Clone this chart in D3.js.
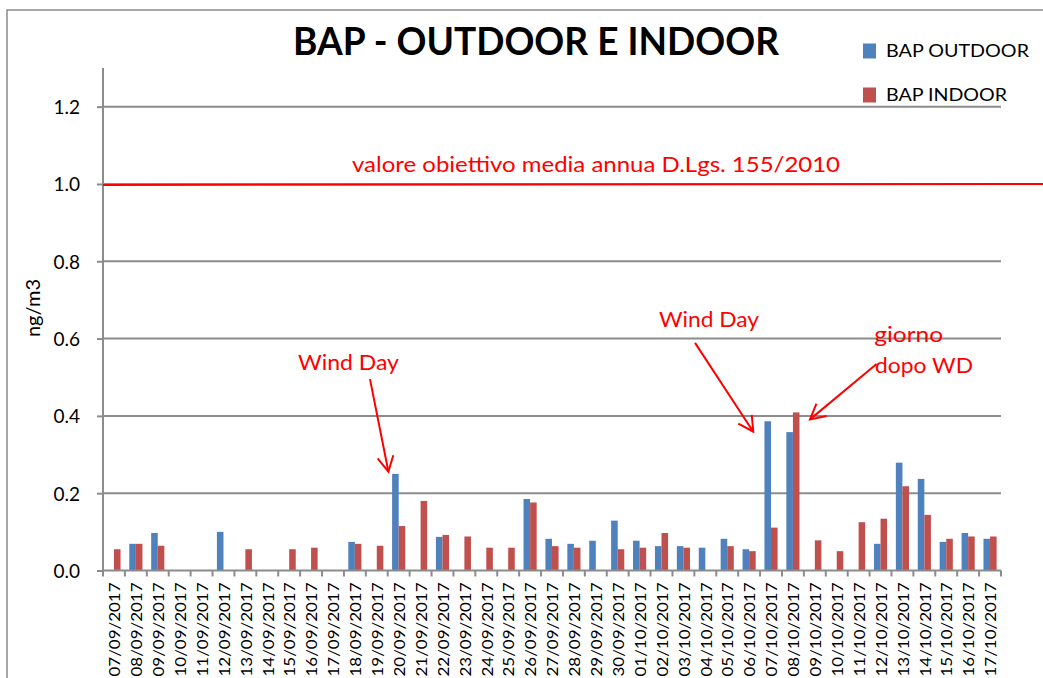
<!DOCTYPE html>
<html><head><meta charset="utf-8">
<script src="https://cdn.jsdelivr.net/npm/d3@7"></script>
<style>
html,body{margin:0;padding:0;background:#fff;overflow:hidden;}
svg{display:block;font-family:Lato,"Open Sans",sans-serif;}
</style></head>
<body><svg id="chart" width="1043" height="678"></svg>
<script>
const categories = ["07/09/2017","08/09/2017","09/09/2017","10/09/2017","11/09/2017","12/09/2017","13/09/2017","14/09/2017","15/09/2017","16/09/2017","17/09/2017","18/09/2017","19/09/2017","20/09/2017","21/09/2017","22/09/2017","23/09/2017","24/09/2017","25/09/2017","26/09/2017","27/09/2017","28/09/2017","29/09/2017","30/09/2017","01/10/2017","02/10/2017","03/10/2017","04/10/2017","05/10/2017","06/10/2017","07/10/2017","08/10/2017","09/10/2017","10/10/2017","11/10/2017","12/10/2017","13/10/2017","14/10/2017","15/10/2017","16/10/2017","17/10/2017"];
const outdoor = [null,0.069,0.097,null,null,0.100,null,null,null,null,null,0.074,null,0.250,null,0.087,null,null,null,0.185,0.082,0.069,0.077,0.129,0.077,0.063,0.063,0.059,0.082,0.055,0.386,0.358,null,null,null,0.069,0.279,0.237,0.074,0.097,0.082];
const indoor = [0.055,0.069,0.064,null,null,null,0.055,null,0.055,0.059,null,0.069,0.064,0.115,0.180,0.092,0.088,0.059,0.059,0.176,0.063,0.059,null,0.055,0.059,0.097,0.059,null,0.063,0.050,0.111,0.409,0.078,0.050,0.125,0.134,0.218,0.144,0.082,0.088,0.088];
const seriesNames = ["BAP OUTDOOR","BAP INDOOR"];
const yTicks = [0,0.2,0.4,0.6,0.8,1.0,1.2];
const limitValue = 1.0;
const limitLabel = "valore obiettivo media annua D.Lgs. 155/2010";
const titleText = "BAP - OUTDOOR E INDOOR";
const yLabel = "ng/m3";

const colors = ["#4F81BD","#C0504D"];
const svg = d3.select("#chart");
const W = 1043, H = 678;
const plot = {left:103, right:1001, top:68, bottom:570.5};

const x = d3.scaleBand().domain(categories).range([plot.left, plot.right]).padding(0);
const xs = d3.scaleBand().domain(seriesNames).range([x.bandwidth()*0.2, x.bandwidth()*0.8]);
const y = d3.scaleLinear().domain([0,1.3]).range([plot.bottom, plot.top]);
const xf = i => plot.left + i * x.bandwidth();

svg.append("path").attr("d", `M7,${H+5} L7,10 L${W+5},10`).attr("fill","none").attr("stroke","#8a8a8a").attr("stroke-width",1.5);

svg.append("g").selectAll("line").data(yTicks.filter(d=>d>0)).join("line")
  .attr("x1", plot.left).attr("x2", plot.right)
  .attr("y1", d=>y(d)).attr("y2", d=>y(d))
  .attr("stroke","#8c8c8c").attr("stroke-width",2);

const yAxis = svg.append("g").attr("transform",`translate(${plot.left},0)`)
  .call(d3.axisLeft(y).tickValues(yTicks).tickFormat(d3.format(".1f")).tickSize(6).tickPadding(17));
yAxis.select(".domain").attr("stroke","#8c8c8c").attr("stroke-width",2).attr("d",`M-0,${y(1.3)}V${plot.bottom}`);
yAxis.selectAll(".tick line").attr("stroke","#8c8c8c").attr("stroke-width",2);
yAxis.selectAll(".tick text").attr("font-size",19).attr("fill","#000").attr("font-family","Lato").attr("dy","0.36em");

const data = categories.map((c,i)=>({c, vals:[outdoor[i], indoor[i]]}));
const g = svg.append("g");
data.forEach(d=>{
  g.selectAll(null).data(d.vals.map((v,k)=>({v,k}))).join("rect")
    .filter(e=>e.v!=null)
    .attr("x", e=>x(d.c)+xs(seriesNames[e.k]))
    .attr("width", xs.bandwidth())
    .attr("y", e=>y(e.v))
    .attr("height", e=>plot.bottom - y(e.v))
    .attr("fill", e=>colors[e.k]);
});

const xAxis = svg.append("g").attr("transform",`translate(0,${plot.bottom})`);
xAxis.append("line").attr("x1",plot.left).attr("x2",plot.right).attr("y1",0).attr("y2",0).attr("stroke","#8c8c8c").attr("stroke-width",2);
xAxis.selectAll("line.tk").data(d3.range(categories.length+1)).join("line").attr("class","tk")
  .attr("x1",i=>xf(i)).attr("x2",i=>xf(i)).attr("y1",0).attr("y2",6)
  .attr("stroke","#8c8c8c").attr("stroke-width",2);
xAxis.selectAll("text").data(categories).join("text")
  .attr("transform", d=>`translate(${x(d)+x.bandwidth()/2+1},12) rotate(-90)`)
  .attr("text-anchor","end").attr("dy","0.36em")
  .attr("font-size",14.5).attr("fill","#000")
  .attr("textLength",94).attr("lengthAdjust","spacingAndGlyphs")
  .text(d=>d);

svg.append("line").attr("x1",plot.left).attr("x2",W).attr("y1",y(limitValue)+1).attr("y2",y(limitValue))
  .attr("stroke","#FF0000").attr("stroke-width",2);
svg.append("text").attr("x",xf(11.37)).attr("y",y(1.031)).attr("fill","#FF0000")
  .attr("font-size",21).attr("textLength",488).attr("lengthAdjust","spacingAndGlyphs").text(limitLabel);

svg.append("text").attr("x",293).attr("y",55).attr("font-weight","bold").attr("font-size",37.5)
  .attr("fill","#000").attr("textLength",486).attr("lengthAdjust","spacingAndGlyphs").text(titleText);

const leg = svg.append("g");
seriesNames.forEach((s,k)=>{
  const ly = 51 + k*44;
  leg.append("rect").attr("x",863).attr("y",ly-7.5).attr("width",13).attr("height",15).attr("fill",colors[k]);
  leg.append("text").attr("x",886).attr("y",ly).attr("dy","0.36em").attr("font-size",18).attr("fill","#000")
    .attr("textLength", k===0?143:121).attr("lengthAdjust","spacingAndGlyphs").text(s);
});

svg.append("text").attr("transform",`translate(40,308) rotate(-90)`).attr("text-anchor","middle")
  .attr("font-size",20).attr("fill","#000").text(yLabel);

const defs = svg.append("defs");
defs.append("marker").attr("id","ah").attr("markerUnits","userSpaceOnUse")
  .attr("viewBox","-16 -9 18 18").attr("refX",0).attr("refY",0).attr("markerWidth",18).attr("markerHeight",18).attr("orient","auto")
  .append("path").attr("d","M-15,-8 L0,0 L-15,8").attr("fill","none").attr("stroke","#FF0000").attr("stroke-width",2);

const arrows = [
  {from:[12.19,0.495], to:[13.03,0.256]},
  {from:[27.03,0.589], to:[29.69,0.359]},
  {from:[35.32,0.534], to:[32.28,0.391]}
];
svg.append("g").selectAll("line").data(arrows).join("line")
  .attr("x1",d=>xf(d.from[0])).attr("y1",d=>y(d.from[1]))
  .attr("x2",d=>xf(d.to[0])).attr("y2",d=>y(d.to[1]))
  .attr("stroke","#FF0000").attr("stroke-width",2).attr("marker-end","url(#ah)");

const notes = [
  {t:"Wind Day", at:[8.90,0.519], len:101},
  {t:"Wind Day", at:[25.39,0.630], len:100},
  {t:"giorno", at:[35.21,0.592], len:69},
  {t:"dopo WD", at:[35.25,0.512], len:98}
];
svg.append("g").selectAll("text").data(notes).join("text")
  .attr("x",d=>xf(d.at[0])).attr("y",d=>y(d.at[1]))
  .attr("fill","#FF0000").attr("font-size",21)
  .attr("textLength",d=>d.len).attr("lengthAdjust","spacingAndGlyphs").text(d=>d.t);
</script></body></html>
